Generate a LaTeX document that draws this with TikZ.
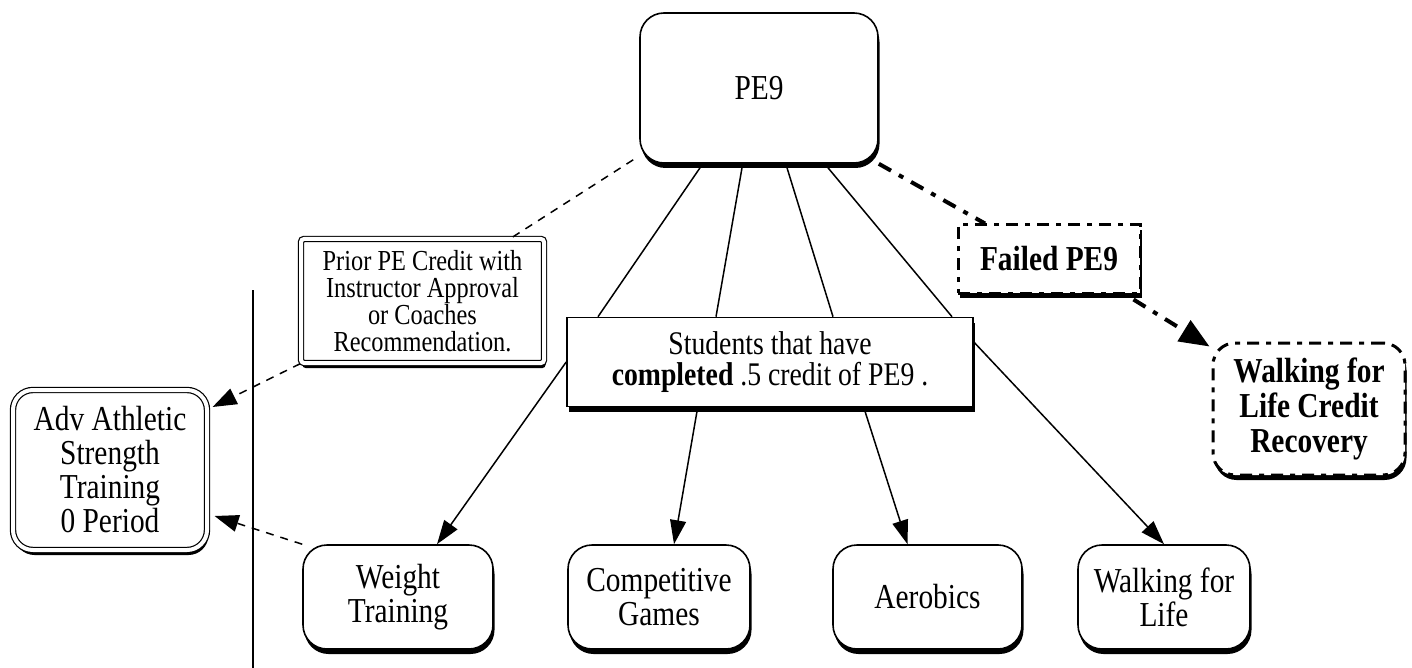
\documentclass[tikz,border=0pt]{standalone}
\usepackage{fontspec}
\setmainfont{Liberation Serif}[FakeStretch=0.84]
\usetikzlibrary{shadows,arrows.meta,calc}
\begin{document}
\begin{tikzpicture}[x=1pt,y=-1pt,
  sh/.style={drop shadow={shadow xshift=1.5pt,shadow yshift=-5pt,opacity=1,fill=black}},
  base/.style={draw,fill=white,line width=1.6pt,align=center,inner sep=0pt,
    font=\fontsize{35}{34}\selectfont,sh},
  rbox/.style={base,rounded corners=24pt},
  dblbox/.style={base,double,double distance=4pt,line width=1.2pt},
  dashbox/.style={base,line width=3pt,dash pattern=on 12pt off 7pt on 5pt off 7pt,
    font=\fontsize{35}{35}\selectfont\bfseries},
  solidline/.style={line width=1.5pt},
  arr/.style={solidline,-{Triangle[length=24pt,width=16pt]}},
  dline/.style={line width=1.5pt,dash pattern=on 8pt off 7pt},
  darr/.style={dline,-{Triangle[length=24pt,width=17pt]}},
  tline/.style={line width=4pt,dash pattern=on 14pt off 9pt on 5pt off 9pt},
  tarr/.style={tline,-{Triangle[length=30pt,width=24pt]}}
]
\useasboundingbox (0,0) rectangle (1412,668);
% nodes
\node[rbox,minimum width=238pt,minimum height=150pt] (pe) at (759,88) {PE9};
\node[dblbox,rounded corners=3pt,minimum width=243pt,minimum height=124pt,
  font=\fontsize{29}{27}\selectfont] (prior) at (422.5,301)
  {Prior PE Credit with\\Instructor Approval\\or Coaches\\Recommendation.};
\node[base,minimum width=406pt,minimum height=89pt,font=\fontsize{33}{31}\selectfont] (stu) at (770,362)
  {Students that have\\{\bfseries completed} .5 credit of PE9 .};
\node[dashbox,minimum width=182pt,minimum height=68pt] (fail) at (1049,259) {Failed PE9};
\node[dashbox,rounded corners=22pt,minimum width=192pt,minimum height=132pt] (wcr) at (1309,409)
  {Walking for\\Life Credit\\Recovery};
\node[dblbox,rounded corners=20pt,minimum width=194pt,minimum height=160pt,
  font=\fontsize{35}{34}\selectfont] (adv) at (110,470)
  {Adv Athletic\\Strength\\Training\\0 Period};
\node[rbox,minimum width=190pt,minimum height=104pt] (wt) at (398,597) {Weight\\Training};
\node[rbox,minimum width=182pt,minimum height=104pt] (cg) at (659,597) {Competitive\\Games};
\node[rbox,minimum width=189pt,minimum height=104pt] (aer) at (927.5,597) {Aerobics};
\node[rbox,minimum width=172pt,minimum height=104pt] (wl) at (1164,597) {Walking for\\Life};
\coordinate (vtop) at (253,290);
\coordinate (vbot) at (253,668);
% connectors PE9 -> students
\draw[solidline] ([xshift=-59pt,yshift=-4pt]pe.south) -- ([xshift=-172pt]stu.north);
\draw[solidline] ([xshift=-17pt,yshift=-4pt]pe.south) -- ([xshift=-54pt]stu.north);
\draw[solidline] ([xshift=28pt,yshift=-4pt]pe.south) -- ([xshift=63pt]stu.north);
\draw[solidline] ([xshift=69pt,yshift=-4pt]pe.south) -- ([xshift=182pt]stu.north);
% students -> courses
\draw[arr] (stu.west) -- ([xshift=39pt]wt.north);
\draw[arr] ([xshift=-73pt,yshift=-4pt]stu.south) -- ([xshift=15pt]cg.north);
\draw[arr] ([xshift=95pt,yshift=-4pt]stu.south) -- ([xshift=-20pt]aer.north);
\draw[arr] ([yshift=20pt]stu.east) -- (wl.north);
% dashed
\draw[dline] ([xshift=-6pt,yshift=4pt]pe.south west) -- ([xshift=88pt]prior.north);
\draw[darr] (prior.south west) -- ([xshift=5pt,yshift=63pt]adv.east);
\draw[darr] (wt.north west) -- ([xshift=7pt,yshift=-46pt]adv.east);
\draw[line width=2pt] (vtop) -- (vbot);
\draw[tline] (pe.south east) -- ([xshift=-64pt]fail.north);
\draw[tarr] ([xshift=-8pt,yshift=-5pt]fail.south east) -- ([xshift=-2pt,yshift=-5pt]wcr.north west);
\end{tikzpicture}
\end{document}
